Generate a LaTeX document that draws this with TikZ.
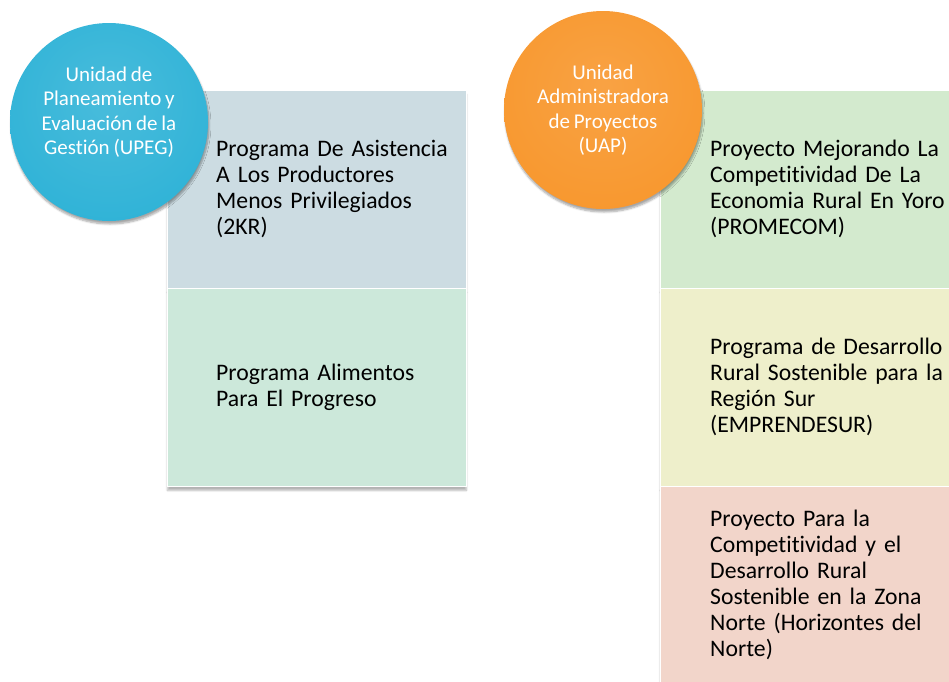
\documentclass[tikz,border=0pt]{standalone}
\usepackage{fontspec}
\setmainfont{Carlito}[Ligatures=NoCommon, WordSpace=0.8]
\usetikzlibrary{shadows.blur}

\definecolor{upegblue}{HTML}{30B3D7}
\definecolor{upegdark}{HTML}{1E8EB3}
\definecolor{uaporange}{HTML}{F8982F}
\definecolor{uapdark}{HTML}{DC7519}
\definecolor{boxgrey}{HTML}{CCDCE2}
\definecolor{boxmint}{HTML}{CCE8DA}
\definecolor{boxgreen}{HTML}{D3EACE}
\definecolor{boxyellow}{HTML}{EEEFCB}
\definecolor{boxpink}{HTML}{F2D5CA}

\pgfdeclareradialshading{upegball}{\pgfpoint{0bp}{6bp}}{color(0bp)=(upegblue!88!white); color(30bp)=(upegblue); color(44bp)=(upegblue); color(50bp)=(upegdark); color(100bp)=(upegdark)}
\pgfdeclareradialshading{uapball}{\pgfpoint{0bp}{6bp}}{color(0bp)=(uaporange!90!white); color(30bp)=(uaporange); color(44bp)=(uaporange); color(50bp)=(uapdark); color(100bp)=(uapdark)}

\tikzset{
    unitcircle/.style={circle, minimum size=198pt, inner sep=0pt,
        blur shadow={shadow xshift=1pt, shadow yshift=-3pt, shadow blur steps=6, shadow opacity=35}},
    unittext/.style={text=white, align=center, font=\fontsize{21}{24.5}\selectfont},
    progbox/.style={rectangle, anchor=north west, minimum width=299pt, minimum height=198pt,
        inner sep=0pt, draw=white!60, line width=0.8pt,
        blur shadow={shadow xshift=0pt, shadow yshift=-4pt, shadow blur steps=6, shadow opacity=30}},
    progtext/.style={anchor=west, text width=245pt, align=left, inner sep=0pt,
        font=\fontsize{23.7}{26}\selectfont}
}

\begin{document}
\begin{tikzpicture}[x=1pt,y=-1pt]
            \useasboundingbox (0,0) rectangle (949,681);

            \node[progbox, fill=boxgrey] (asistencia) at (167,90) {};
            \node[progbox, fill=boxmint] (alimentos) at (167,288) {};
            \node[progbox, fill=boxgreen] (promecom) at (660,90) {};
            \node[progbox, fill=boxyellow] (emprendesur) at (660,288) {};
            \node[progbox, fill=boxpink] (horizontes) at (660,486) {};

            \node[progtext] (asistenciatext) at ([xshift=49pt]asistencia.west)
                {Programa De Asistencia\\A Los Productores\\Menos Privilegiados\\(2KR)};
            \node[progtext] (alimentostext) at ([xshift=49pt]alimentos.west)
                {Programa Alimentos\\Para El Progreso};
            \node[progtext] (promecomtext) at ([xshift=50pt]promecom.west)
                {Proyecto Mejorando La\\Competitividad De La\\Economia Rural En Yoro\\(PROMECOM)};
            \node[progtext] (emprendesurtext) at ([xshift=50pt]emprendesur.west)
                {Programa de Desarrollo\\Rural Sostenible para la\\Región Sur\\(EMPRENDESUR)};
            \node[progtext] (horizontestext) at ([xshift=50pt]horizontes.west)
                {Proyecto Para la\\Competitividad y el\\Desarrollo Rural\\Sostenible en la Zona\\Norte (Horizontes del\\Norte)};

            \node[unitcircle, shading=upegball] (upeg) at (109,122) {};
            \node[unittext] (upegtext) at ([yshift=10pt]upeg.center)
                {Unidad de\\Planeamiento y\\Evaluación de la\\Gestión (UPEG)};

            \node[unitcircle, shading=uapball] (uap) at (603,110) {};
            \node[unittext] (uaptext) at (uap.center)
                {Unidad\\Administradora\\de Proyectos\\(UAP)};
\end{tikzpicture}
\end{document}
